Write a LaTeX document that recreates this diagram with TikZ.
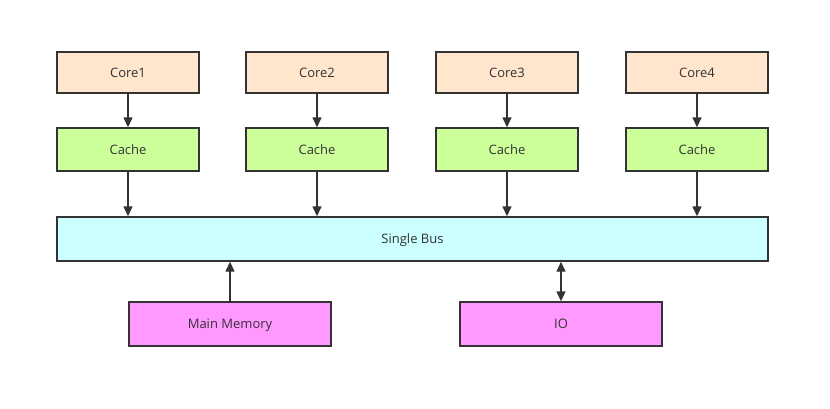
\documentclass[tikz,border=0pt]{standalone}
\usepackage{fontspec}
\setmainfont{Open Sans}
\usetikzlibrary{arrows.meta}
\definecolor{linegray}{HTML}{333333}
\definecolor{corefill}{HTML}{FFE6CC}
\definecolor{cachefill}{HTML}{CCFF99}
\definecolor{busfill}{HTML}{CCFFFF}
\definecolor{memfill}{HTML}{FF99FF}
\tikzset{
  box/.style={draw=linegray, line width=1.4pt, inner sep=0pt, font=\fontsize{13}{15}\selectfont, text=linegray, text height=9pt, text depth=0pt},
  corebox/.style={box, fill=corefill, minimum width=142pt, minimum height=41pt},
  cachebox/.style={box, fill=cachefill, minimum width=142pt, minimum height=43pt},
  busbox/.style={box, fill=busfill, minimum width=711pt, minimum height=44pt},
  membox/.style={box, fill=memfill, minimum width=202pt, minimum height=44pt},
  link/.style={draw=linegray, line width=1.4pt, -{Triangle[length=10pt,width=9pt]}},
}
\begin{document}
\begin{tikzpicture}[x=1pt, y=-1pt]
    \useasboundingbox (0,0) rectangle (830,408);
    % 四个核心及其缓存
    \foreach \i/\x in {1/128, 2/317, 3/507, 4/697} {
        \node[corebox] (core\i) at (\x,72.5) {Core\i};
        \node[cachebox] (cache\i) at (\x,149.5) {Cache};
    }
    % 总线
    \node[busbox] (bus) at (412.5,239) {Single Bus};
    % 内存与IO
    \node[membox] (mem) at (230,324) {Main Memory};
    \node[membox] (io) at (561,324) {IO};
    % 连线
    \foreach \i in {1,...,4} {
        \draw[link] (core\i) -- (cache\i);
        \draw[link] (cache\i) -- (cache\i |- bus.north);
    }
    \draw[link] (mem) -- (mem |- bus.south);
    \draw[link, {Triangle[length=10pt,width=9pt]}-{Triangle[length=10pt,width=9pt]}] (io) -- (io |- bus.south);
\end{tikzpicture}
\end{document}
